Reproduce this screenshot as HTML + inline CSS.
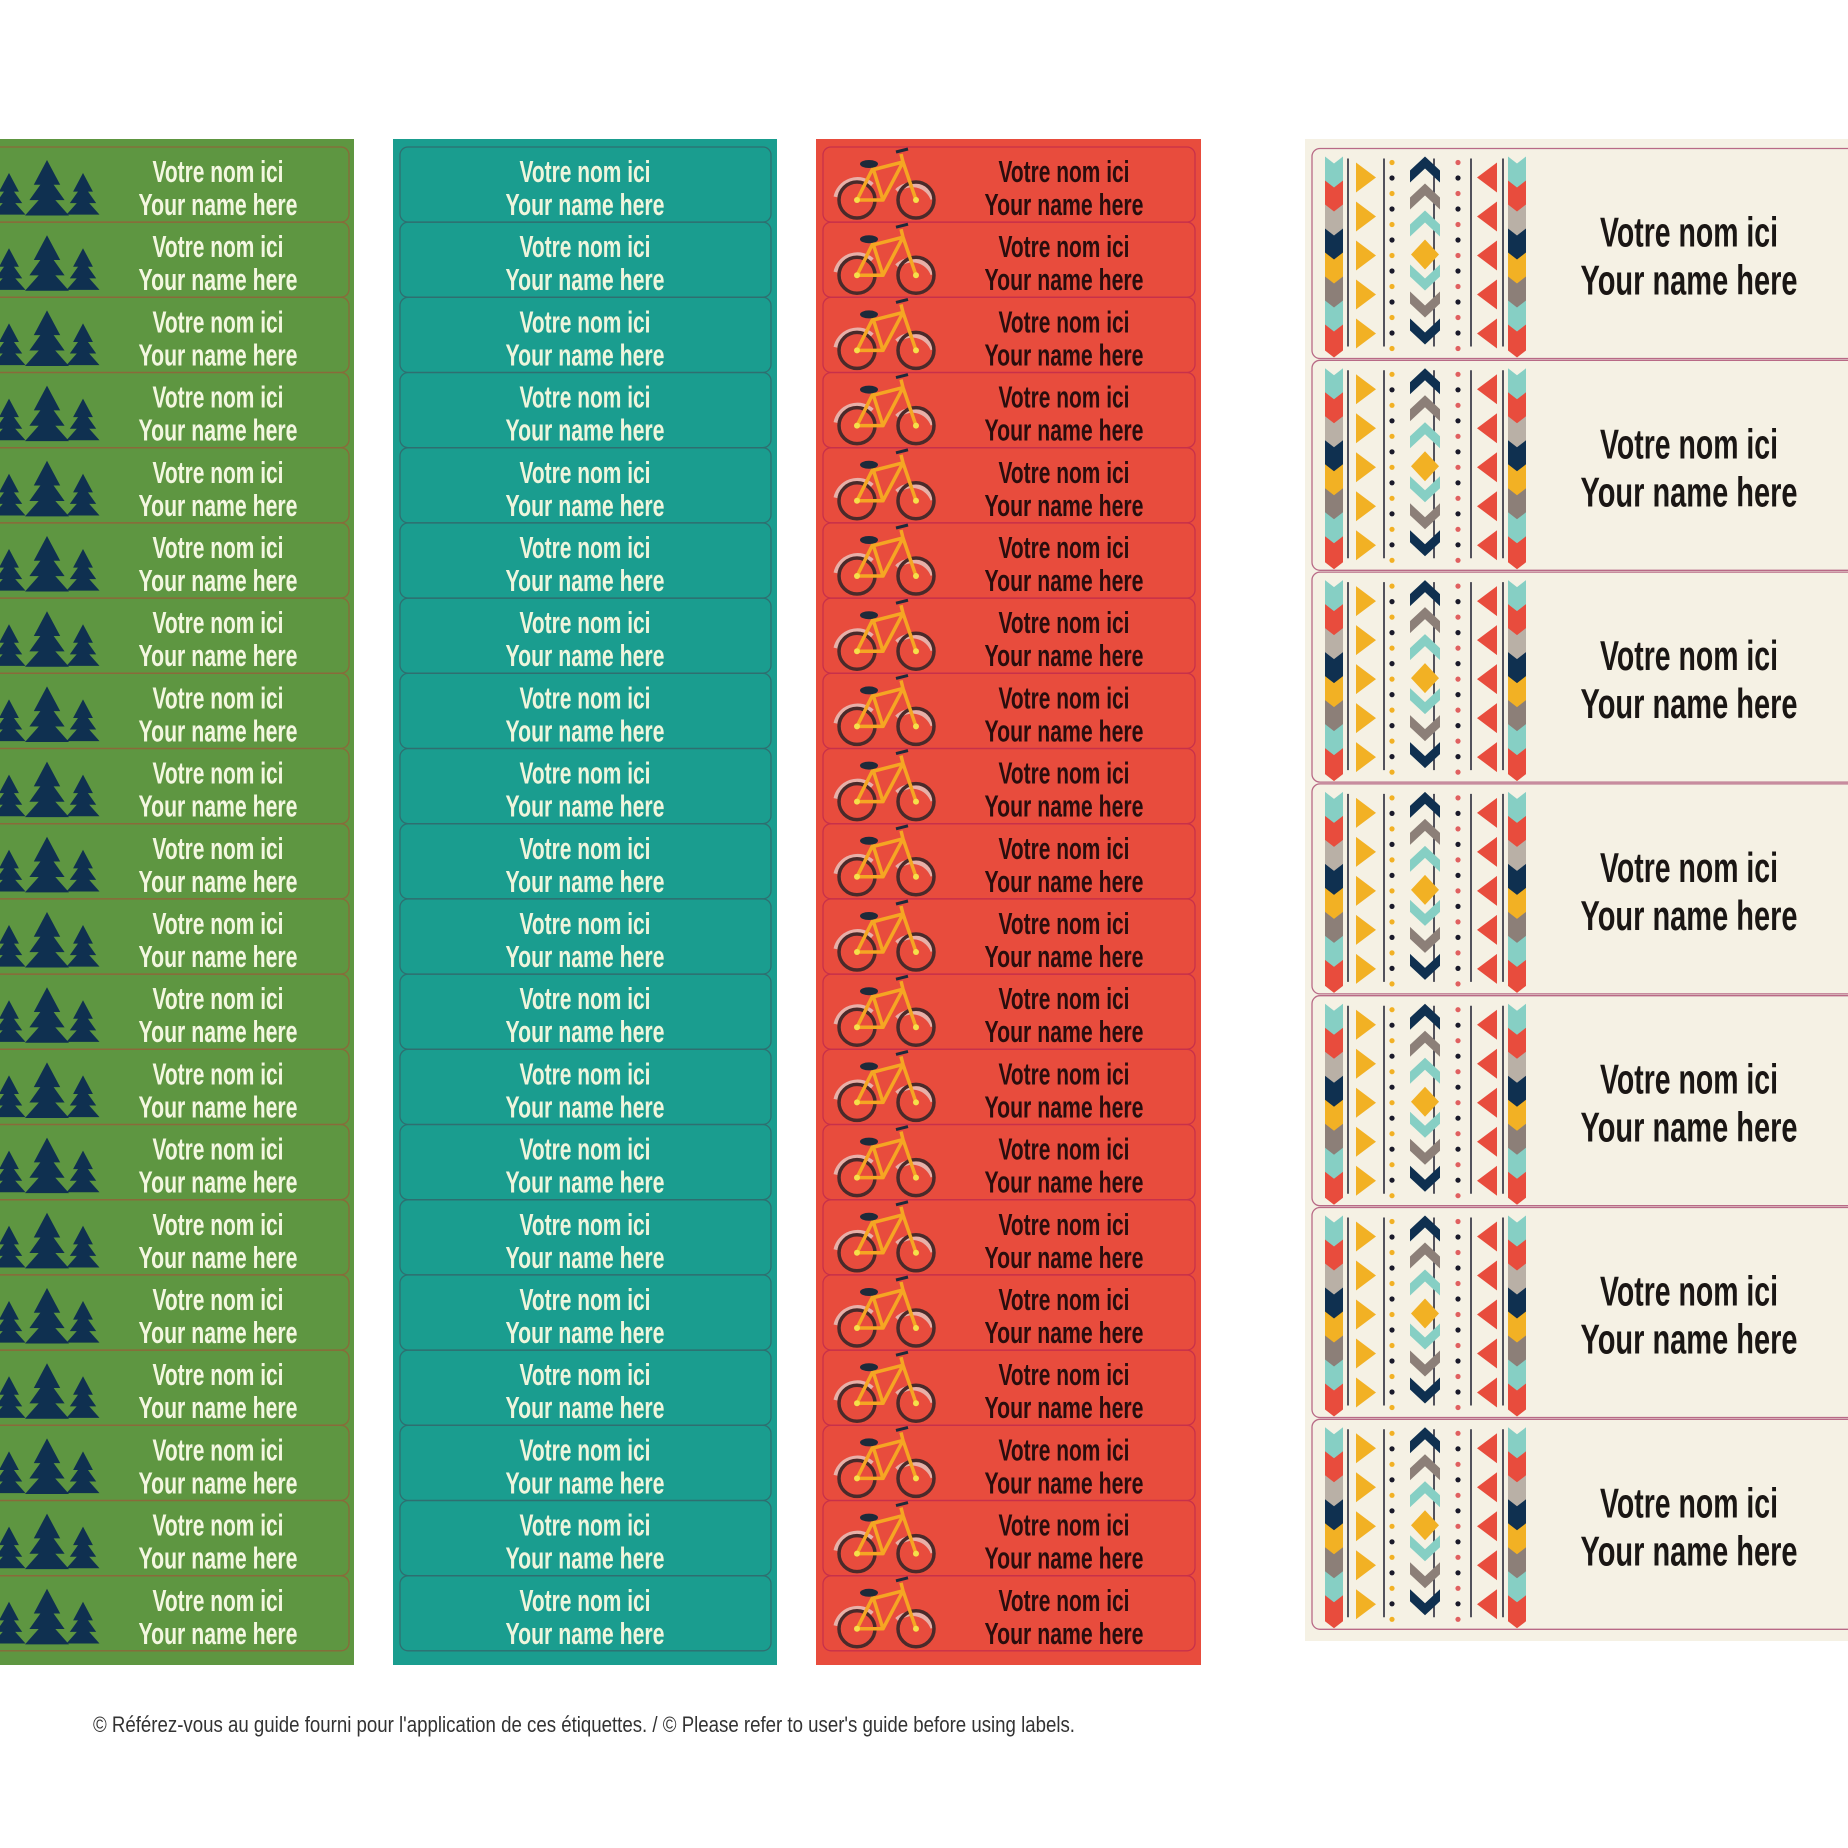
<!DOCTYPE html>
<html><head><meta charset="utf-8"><style>
html,body{margin:0;padding:0;background:#fff;}
svg{display:block;}
text{font-family:"Liberation Sans Narrow","Liberation Sans",sans-serif;}
</style></head><body>
<svg id="s" width="1848" height="1848" viewBox="0 0 1848 1848" xmlns="http://www.w3.org/2000/svg">
<rect x="0" y="139" width="354" height="1526" fill="#5e9641"/>
<rect x="393" y="139" width="384" height="1526" fill="#1a9d8f"/>
<rect x="816" y="139" width="385" height="1526" fill="#e84c3d"/>
<rect x="1305" y="139" width="543" height="1502" fill="#f5f1e4"/>
<g id="g"></g>
<text x="93" y="1732" font-size="22" fill="#333" textLength="982" lengthAdjust="spacingAndGlyphs">© Référez-vous au guide fourni pour l'application de ces étiquettes. / © Please refer to user's guide before using labels.</text>
</svg>
<script>
const smallRows = 20;
const creamRows = 7;
const line1 = "Votre nom ici";
const line2 = "Your name here";
const NS="http://www.w3.org/2000/svg";
const G=document.getElementById('g');
function mk(t,a,p){const e=document.createElementNS(NS,t);for(const k in a)e.setAttribute(k,a[k]);(p||G).appendChild(e);return e;}
function txt(x,y,s,fs,len,fill,p){const e=mk('text',{x:x,y:y,'font-size':fs,'font-weight':'bold',fill:fill,'text-anchor':'middle',textLength:len,lengthAdjust:'spacingAndGlyphs'},p);e.textContent=s;return e;}
const cols=[
 {name:'green',x0:-10,x1:349,stroke:'#8a6a3a',tc:'#f3f7e0',cx:218},
 {name:'teal',x0:400,x1:771,stroke:'#2f6f70',tc:'#eef5dc',cx:585},
 {name:'red',x0:823,x1:1195,stroke:'#c8304a',tc:'#2a0d0d',cx:1064}
];
cols.forEach(c=>{
 for(let i=0;i<smallRows;i++){
  const y=147+i*75.2;
  const g=mk('g',{});
  
  
  mk('rect',{x:c.x0,y:y,width:c.x1-c.x0,height:75,rx:8,fill:'none',stroke:c.stroke,'stroke-width':1.3},g);
  const t1=txt(c.cx,y+35,line1,31,131,c.tc,g);
  
  
  const t2=txt(c.cx,y+68,line2,31,159,c.tc,g);
  
  
  if(c.name==='green'){
   const tr=mk('g',{fill:'#0f3050'},g);
   
   
   [[9,26,0.75],[83,26,0.75],[47,13,1]].forEach(([cx,top,s])=>{
     const h=55*s,w=22*s;
     for(let k=0;k<3;k++){
      const ty=y+top+k*h*0.28, by=y+top+h*(0.45+k*0.28);
      mk('polygon',{points:`${cx},${ty} ${cx-w*(0.6+k*0.2)},${by} ${cx+w*(0.6+k*0.2)},${by}`},tr);
     }
   });
  }
  if(c.name==='red'){
   const b=mk('g',{},g);
   
   
   const cy=y+53;
   mk('path',{d:`M836 ${cy-3} a22 22 0 0 1 36 -12`,stroke:'#e8b0a8','stroke-width':5,fill:'none'},b);
   mk('path',{d:`M897 ${cy-9} a22 22 0 0 1 36 8`,stroke:'#e8b0a8','stroke-width':5,fill:'none'},b);
   mk('circle',{cx:857,cy:cy,r:18,fill:'none',stroke:'#4a2a2a','stroke-width':3.5},b);
   mk('circle',{cx:916,cy:cy,r:18,fill:'none',stroke:'#4a2a2a','stroke-width':3.5},b);
   mk('path',{d:`M857 ${cy} L883 ${cy} L872 ${cy-35} M857 ${cy} L872 ${cy-30} L903 ${cy-38} L883 ${cy} M903 ${cy-38} L916 ${cy} M901 ${cy-46} L903 ${cy-38}`,stroke:'#f5a623','stroke-width':3.5,fill:'none','stroke-linejoin':'round'},b);
   mk('ellipse',{cx:869,cy:cy-36,rx:9,ry:4,fill:'#1e2a3a'},b);
   mk('line',{x1:896,y1:cy-48,x2:908,y2:cy-51,stroke:'#1e2a3a','stroke-width':3},b);
   mk('circle',{cx:857,cy:cy,r:3,fill:'#f5e04a'},b);
   mk('circle',{cx:916,cy:cy,r:3,fill:'#f5e04a'},b);
  }
 }
});
const chevCols=['#86cfc4','#e84c3d','#b9b0a6','#0f3050','#f2b124','#8c7f78','#86cfc4','#e84c3d'];
const midCols=['#0f3050','#8c7f78','#86cfc4','#f2b124','#86cfc4','#8c7f78','#0f3050'];
for(let i=0;i<creamRows;i++){
 const y=148.5+i*211.8;
 const g=mk('g',{});
 
 
 mk('rect',{x:1312,y:y,width:560,height:210,rx:8,fill:'none',stroke:'#b86a86','stroke-width':1.3},g);
 const t1=txt(1689,y+98,line1,42,178,'#1a1614',g);
 
 
 const t2=txt(1689,y+146,line2,42,217,'#1a1614',g);
 
 
 const p=mk('g',{},g);
 
 
 const top=y+8, bot=y+200, H=bot-top;
 [1325,1508].forEach(x=>{
  const n=chevCols.length, sh=H/n;
  for(let k=0;k<n;k++){const a=top+k*sh;
   mk('polygon',{points:`${x},${a} ${x+9},${a+7} ${x+18},${a} ${x+18},${a+sh+2} ${x+9},${a+sh+9} ${x},${a+sh+2}`,fill:chevCols[k]},p);}
 });
 [1348,1384,1434,1471,1503].forEach(x=>mk('line',{x1:x,y1:top+2,x2:x,y2:bot-2,stroke:'#2a2a3a','stroke-width':1.6},p));
 for(let k=0;k<5;k++){const a=top+6+k*39;
  mk('polygon',{points:`1356,${a} 1376,${a+15} 1356,${a+30}`,fill:'#f2b124'},p);
  mk('polygon',{points:`1497,${a} 1477,${a+15} 1497,${a+30}`,fill:'#e84c3d'},p);}
 for(let k=0;k<13;k++){const a=top+6+k*15.5;
  mk('circle',{cx:1392,cy:a,r:2.6,fill:k%2?'#1a1a2a':'#f2b124'},p);
  mk('circle',{cx:1458,cy:a,r:2.6,fill:k%2?'#1a1a2a':'#e06060'},p);}
 const cx=1425;
 for(let k=0;k<7;k++){const a=top+k*27;
  if(k===3){mk('polygon',{points:`${cx},${a+2} ${cx+14},${a+17} ${cx},${a+32} ${cx-14},${a+17}`,fill:'#f2b124'},p);continue;}
  const up=k<3;
  if(up) mk('polygon',{points:`${cx},${a} ${cx+15},${a+14} ${cx+15},${a+26} ${cx},${a+12} ${cx-15},${a+26} ${cx-15},${a+14}`,fill:midCols[k]},p);
  else mk('polygon',{points:`${cx-15},${a} ${cx},${a+14} ${cx+15},${a} ${cx+15},${a+12} ${cx},${a+26} ${cx-15},${a+12}`,fill:midCols[k]},p);
 }
}
</script>
</body></html>
